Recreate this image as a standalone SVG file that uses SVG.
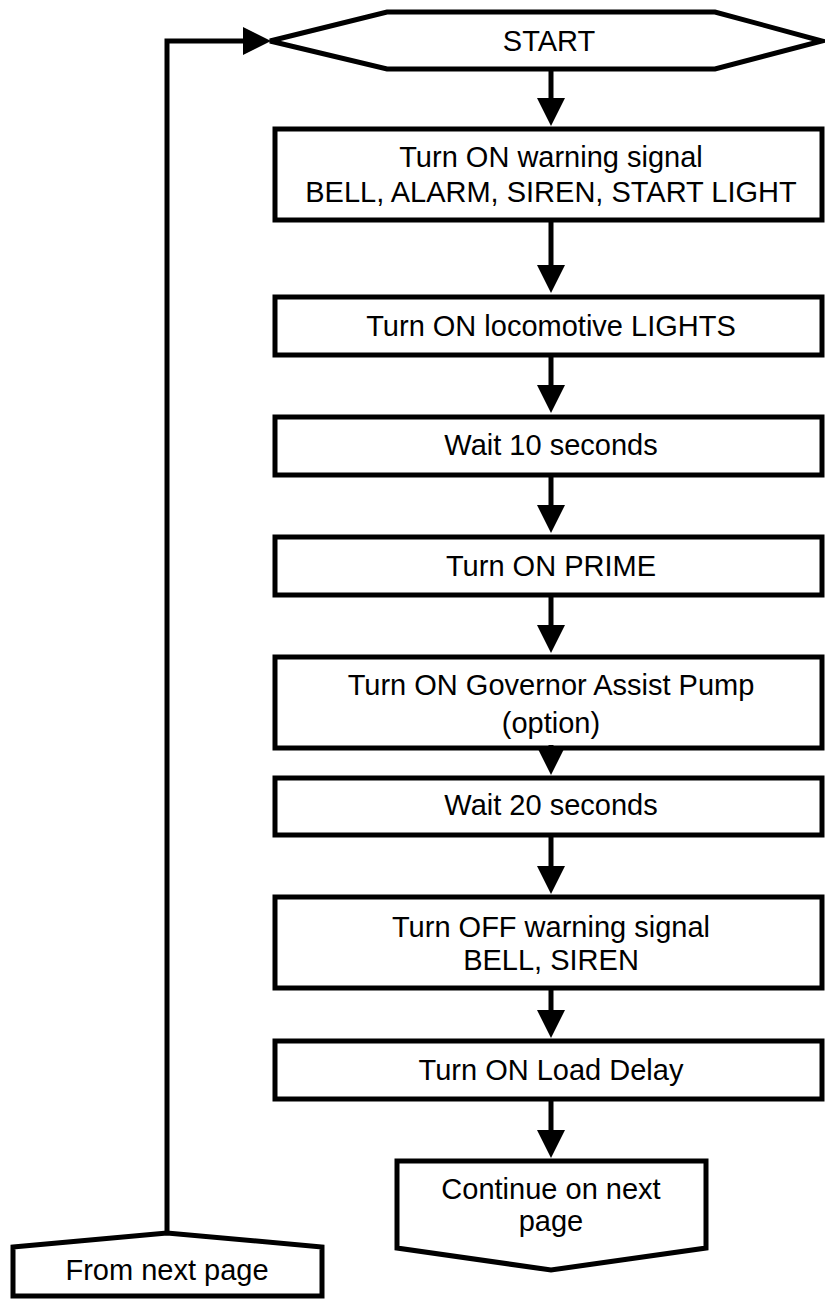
<svg xmlns="http://www.w3.org/2000/svg" width="825" height="1300" viewBox="0 0 825 1300">
<style>
.shape{fill:#fff;stroke:#000;stroke-width:5;stroke-linejoin:miter}
.lbl{font-family:"Liberation Sans",Arial,sans-serif;font-size:29px;fill:#000;text-anchor:middle}
.conn{fill:none;stroke:#000;stroke-width:5}
</style>
<defs>
<marker id="ah" viewBox="0 0 28 28" refX="0" refY="14" markerWidth="28" markerHeight="28" markerUnits="userSpaceOnUse" orient="auto">
<path d="M0,0 L28,14 L0,28 Z" fill="#000"/>
</marker>
</defs>
<rect width="825" height="1300" fill="#fff"/>
<g id="start">
<polygon class="shape" points="270,41 387,12 715,12 822,41 715,69 387,69"/>
<text class="lbl" x="549" y="51">START</text>
</g>
<g id="n1">
<rect class="shape" x="275" y="129" width="547" height="91"/>
<text class="lbl" x="551" y="167">Turn ON warning signal</text>
<text class="lbl" x="551" y="202">BELL, ALARM, SIREN, START LIGHT</text>
</g>
<g id="n2">
<rect class="shape" x="275" y="297" width="547" height="58"/>
<text class="lbl" x="551" y="336">Turn ON locomotive LIGHTS</text>
</g>
<g id="n3">
<rect class="shape" x="275" y="417" width="547" height="58"/>
<text class="lbl" x="551" y="455">Wait 10 seconds</text>
</g>
<g id="n4">
<rect class="shape" x="275" y="537" width="547" height="58"/>
<text class="lbl" x="551" y="576">Turn ON PRIME</text>
</g>
<g id="n5">
<rect class="shape" x="275" y="657" width="547" height="91"/>
<text class="lbl" x="551" y="695">Turn ON Governor Assist Pump</text>
<text class="lbl" x="551" y="733">(option)</text>
</g>
<g id="n6">
<rect class="shape" x="275" y="778" width="547" height="57"/>
<text class="lbl" x="551" y="815">Wait 20 seconds</text>
</g>
<g id="n7">
<rect class="shape" x="275" y="897" width="547" height="91"/>
<text class="lbl" x="551" y="937">Turn OFF warning signal</text>
<text class="lbl" x="551" y="970">BELL, SIREN</text>
</g>
<g id="n8">
<rect class="shape" x="275" y="1041" width="547" height="58"/>
<text class="lbl" x="551" y="1080">Turn ON Load Delay</text>
</g>
<g id="cont">
<polygon class="shape" points="397,1161 706,1161 706,1248 551,1270 397,1248"/>
<text class="lbl" x="551" y="1199">Continue on next</text>
<text class="lbl" x="551" y="1231">page</text>
</g>
<g id="from">
<polygon class="shape" points="13,1247 167,1233 322,1247 322,1296 13,1296"/>
<text class="lbl" x="167" y="1280">From next page</text>
</g>
<g id="connectors">
<path class="conn" d="M551,69 V98" marker-end="url(#ah)"/>
<path class="conn" d="M551,220 V265" marker-end="url(#ah)"/>
<path class="conn" d="M551,355 V385" marker-end="url(#ah)"/>
<path class="conn" d="M551,475 V505" marker-end="url(#ah)"/>
<path class="conn" d="M551,595 V625" marker-end="url(#ah)"/>
<path class="conn" d="M551,745 V747" stroke-width="0.1" marker-end="url(#ah)"/>
<path class="conn" d="M551,835 V866" marker-end="url(#ah)"/>
<path class="conn" d="M551,988 V1010" marker-end="url(#ah)"/>
<path class="conn" d="M551,1099 V1130" marker-end="url(#ah)"/>
<path class="conn" d="M167,1233 V41 H243" stroke-linejoin="miter" marker-end="url(#ah)"/>
</g>
</svg>
